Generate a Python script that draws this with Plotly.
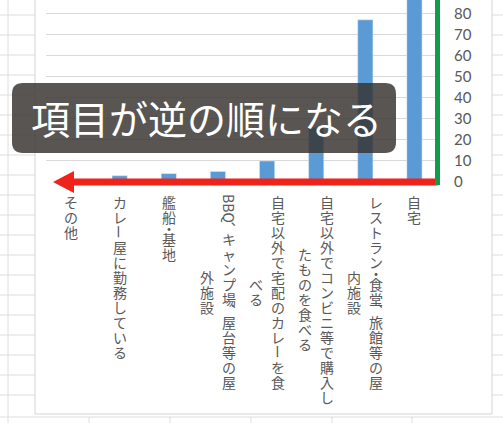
import unicodedata
import plotly.graph_objects as go

# 回答の多かった場所（Excelの横棒グラフを縦にしたら項目が逆順になった例）
categories = [
    "その他",
    "カレー屋に勤務している",
    "艦船・基地",
    "BBQ、キャンプ場、屋台等の屋外施設",
    "自宅以外で宅配のカレーを食べる",
    "自宅以外でコンビニ等で購入したものを食べる",
    "レストラン・食堂、旅館等の屋内施設",
    "自宅",
]
values = [1, 3, 4, 5, 10, 26, 77, 120]
# Excel wrapped these labels into a second column after n characters
wrap_at = [None, None, None, 15, 13, 14, 14, None]
y_ticks = [0, 10, 20, 30, 40, 50, 60, 70, 80]
callout = "項目が逆の順になる"

W, H = 503, 423
L, R, T, B = 46, 439, 0, 182  # plot area in pixels


def fx(p):
    return (p - L) / (R - L)


def fy(p):
    return (B - p) / (B - T)


GRID = "#dedede"
shapes = []

# spreadsheet cells around the chart
for k in range(21):
    yy = 15 + 20 * k
    if yy > 414:
        break
    shapes.append(dict(type="line", xref="paper", yref="paper", layer="below",
                       x0=fx(0), x1=fx(35), y0=fy(yy), y1=fy(yy),
                       line=dict(color=GRID, width=1)))
    shapes.append(dict(type="line", xref="paper", yref="paper", layer="below",
                       x0=fx(492), x1=fx(503), y0=fy(yy), y1=fy(yy),
                       line=dict(color=GRID, width=1)))
shapes.append(dict(type="line", xref="paper", yref="paper", layer="below",
                   x0=fx(0), x1=fx(503), y0=fy(417), y1=fy(417),
                   line=dict(color=GRID, width=1)))
for xx in [8, 89, 170, 251, 332, 412]:
    y_top = 0 if xx == 8 else 417
    shapes.append(dict(type="line", xref="paper", yref="paper", layer="below",
                       x0=fx(xx), x1=fx(xx), y0=fy(y_top), y1=fy(423),
                       line=dict(color=GRID, width=1)))
# chart area border
shapes.append(dict(type="rect", xref="paper", yref="paper", layer="below",
                   x0=fx(35), x1=fx(492), y0=fy(-2), y1=fy(414),
                   fillcolor="white", line=dict(color="#d4d4d4", width=1)))

# red arrow along the category axis
red = "#f0231a"
shapes.append(dict(type="line", xref="paper", yref="paper",
                   x0=fx(70), x1=fx(438), y0=fy(182), y1=fy(182),
                   line=dict(color=red, width=7)))
shapes.append(dict(type="path", xref="paper", yref="paper",
                   path="M %f %f L %f %f L %f %f Z" % (
                       fx(53), fy(182), fx(74), fy(171), fx(74), fy(193)),
                   fillcolor=red, line=dict(width=0)))
# green line on the value axis
shapes.append(dict(type="line", xref="paper", yref="paper",
                   x0=fx(437.5), x1=fx(437.5), y0=fy(-2), y1=fy(185),
                   line=dict(color="#0f9d4a", width=5)))

# rounded callout box
x0, y0, x1, y1, r = 12, 83, 396, 153, 11
pts = [("M", x0 + r, y0), ("L", x1 - r, y0), ("Q", x1, y0, x1, y0 + r),
       ("L", x1, y1 - r), ("Q", x1, y1, x1 - r, y1), ("L", x0 + r, y1),
       ("Q", x0, y1, x0, y1 - r), ("L", x0, y0 + r), ("Q", x0, y0, x0 + r, y0)]
path = ""
for p in pts:
    nums = p[1:]
    coords = []
    for j in range(0, len(nums), 2):
        coords.append("%f,%f" % (fx(nums[j]), fy(nums[j + 1])))
    path += p[0] + " " + " ".join(coords) + " "
path += "Z"
shapes.append(dict(type="path", xref="paper", yref="paper", path=path,
                   fillcolor="rgba(56,52,50,0.84)", line=dict(width=0)))

annotations = [dict(text=callout, xref="paper", yref="paper",
                    x=fx(206), y=fy(117), showarrow=False,
                    font=dict(size=39, color="white"))]

# vertical (tategaki) category labels, one annotation per character
CELL = 15


def is_dash(ch):
    name = unicodedata.name(ch, "")
    return any(w in name for w in ("PROLONGED", "DASH", "HYPHEN", "HORIZONTAL"))


def tokens(s):
    out = []
    i = 0
    while i < len(s):
        ch = s[i]
        if ch.isascii() and ch.isalnum():
            j = i
            while j < len(s) and s[j].isascii() and s[j].isalnum():
                j += 1
            out.append((s[i:j], 9 * (j - i) + 3, 90))
            i = j
            continue
        if ch == "\u3001":
            out.append(("\ufe11", CELL / 2, 0))
        elif ch == "\u30fb":
            out.append((ch, CELL / 2, 0))
        elif is_dash(ch):
            out.append((ch, CELL, 90))
        else:
            out.append((ch, CELL, 0))
        i += 1
    return out


for i, lab in enumerate(categories):
    n = wrap_at[i]
    cols = [lab] if n is None else [lab[:n], lab[n:]]
    offsets = [0] if len(cols) == 1 else [11, -11]
    toks = [tokens(c) for c in cols]
    lengths = [sum(t[1] for t in tk) for tk in toks]
    lmax = max(lengths)
    for tk, ln, off in zip(toks, lengths, offsets):
        pos = 194 + (lmax - ln) / 2
        for text, size, ang in tk:
            annotations.append(dict(
                text=text, xref="x", yref="paper", x=categories[i],
                xshift=off, y=fy(pos + size / 2), yanchor="middle",
                xanchor="center", textangle=ang, showarrow=False,
                font=dict(size=14, color="#595959")))
            pos += size

fig = go.Figure()
fig.add_trace(go.Bar(x=categories, y=values, marker_color="#5b9bd5",
                     width=0.31, hoverinfo="skip"))

fig.update_layout(
    width=W, height=H,
    margin=dict(l=L, r=W - R, t=T, b=H - B),
    paper_bgcolor="white", plot_bgcolor="rgba(0,0,0,0)",
    font=dict(family="Noto Sans CJK JP", color="#595959"),
    showlegend=False,
    hovermode=False,
    shapes=shapes,
    annotations=annotations,
)
fig.update_xaxes(type="category", range=[-0.5, 7.5], showticklabels=False,
                 showgrid=False, showline=False, zeroline=False)
fig.update_yaxes(side="right", range=[0, (B - T) / 2.106], tickvals=y_ticks,
                 showgrid=True, gridcolor="#d9d9d9", gridwidth=1,
                 zeroline=False, showline=False, ticks="",
                 ticklabelstandoff=14, automargin=False,
                 tickfont=dict(family="Lato", size=15, color="#595959"))

fig.write_html("out.html", config={"displayModeBar": False},
               post_script="document.body.style.margin='0';")
